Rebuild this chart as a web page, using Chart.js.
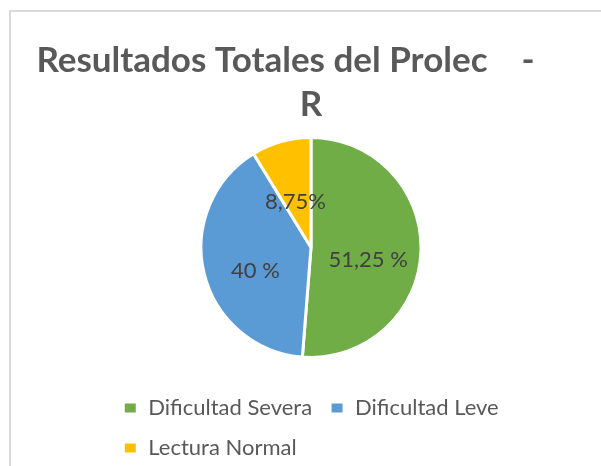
<!DOCTYPE html>
<html lang="es">
<head>
<meta charset="UTF-8">
<title>Resultados Totales del Prolec - R</title>
<script src="https://cdn.jsdelivr.net/npm/chart.js"></script>
<style>
  html, body { margin: 0; background: #fff; overflow: hidden; width: 601px; height: 466px; }
  .marco { position: absolute; left: 9px; top: 10px; width: 700px; height: 600px; border-left: 2px solid #d9d9d9; border-top: 2px solid #d9d9d9; }
  #grafico { position: absolute; left: 10px; top: 11px; }
</style>
</head>
<body>
<div class="marco"></div>
<canvas id="grafico" width="602" height="459"></canvas>

<script>
  // Datos del gráfico
  const titulo = ['Resultados Totales del Prolec    -      ', 'R'];
  const categorias = ['Dificultad Severa', 'Dificultad Leve', 'Lectura Normal'];
  const porcentajes = [51.25, 40, 8.75];
  const etiquetas = ['51,25 %', '40 %', '8,75%'];
  const colores = ['#70AD47', '#5B9BD5', '#FFC000'];

  // Etiquetas de datos dentro de cada porción
  const etiquetasPlugin = {
    id: 'etiquetas',
    afterDatasetsDraw(chart) {
      const ctx = chart.ctx;
      const arcos = chart.getDatasetMeta(0).data;
      ctx.save();
      ctx.font = '22px Lato';
      ctx.fillStyle = '#404040';
      ctx.textAlign = 'center';
      ctx.textBaseline = 'middle';
      arcos.forEach((arco, i) => {
        const { x, y, startAngle, endAngle, outerRadius } =
          arco.getProps(['x', 'y', 'startAngle', 'endAngle', 'outerRadius'], true);
        const medio = (startAngle + endAngle) / 2;
        const d = outerRadius * 0.52;
        ctx.fillText(etiquetas[i], x + Math.cos(medio) * d, y + Math.sin(medio) * d + 10);
      });
      ctx.restore();
    }
  };

  // La segunda fila de la leyenda empieza donde la primera (como en Excel)
  const leyendaPlugin = {
    id: 'leyendaIzq',
    beforeDraw(chart) {
      const lw = chart.legend && chart.legend.lineWidths;
      if (lw && lw.length > 1) chart.legend.lineWidths = lw.map(() => lw[0]);
    }
  };

  new Chart(document.getElementById('grafico'), {
    type: 'pie',
    data: {
      labels: categorias,
      datasets: [{
        data: porcentajes,
        backgroundColor: colores,
        borderColor: '#fff',
        borderWidth: 3
      }]
    },
    options: {
      responsive: false,
      animation: false,
      radius: 110,
      layout: { padding: { left: 20, right: 20, top: 0, bottom: 1 } },
      plugins: {
        title: {
          display: true,
          text: titulo,
          color: '#595959',
          font: { family: 'Lato', size: 35, weight: 'bold', lineHeight: 1.27 },
          padding: { top: 27, bottom: -11 }
        },
        legend: {
          position: 'bottom',
          labels: {
            color: '#595959',
            font: { family: 'Lato', size: 22 },
            boxWidth: 14,
            boxHeight: 12,
            padding: 18
          }
        },
        tooltip: { enabled: false }
      }
    },
    plugins: [etiquetasPlugin, leyendaPlugin]
  });
</script>
</body>
</html>
